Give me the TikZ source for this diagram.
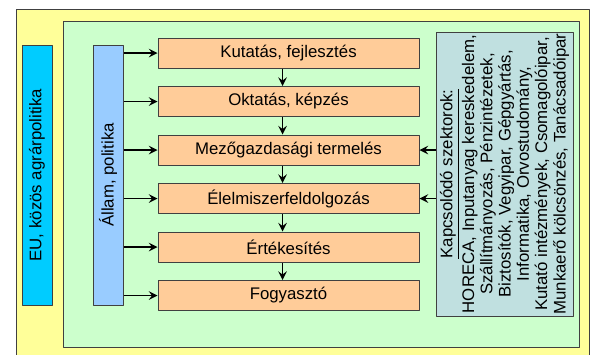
\documentclass[tikz,border=0pt]{standalone}
\usepackage{fontspec}
\setmainfont{Liberation Sans}
\usetikzlibrary{positioning}

\definecolor{frameyellow}{HTML}{FFFF99}
\definecolor{framegreen}{HTML}{CCFFCC}
\definecolor{eublue}{HTML}{00CCFF}
\definecolor{stateblue}{HTML}{99CCFF}
\definecolor{chainorange}{HTML}{FFCC99}
\definecolor{sectorcyan}{HTML}{C0E0E0}

\tikzset{
  chainbox/.style={draw=black!75, line width=0.5pt, fill=chainorange,
                   minimum width=130.5pt, minimum height=15pt, inner sep=0pt},
  barbox/.style={draw=black!75, line width=0.5pt, rotate=90,
                 minimum width=130pt, minimum height=15pt, inner sep=0pt},
  flow/.style={->, line width=0.9pt}
}

\begin{document}
\begin{tikzpicture}[>=stealth, x=0.5pt, y=-0.5pt, line join=round,
                    font=\fontsize{8.4}{9.2}\selectfont]

  \useasboundingbox (0,0) rectangle (594,354);

  % ── frames ─────────────────────────────────────────────────────────────

  \draw[draw=black!75, line width=0.5pt, fill=frameyellow] (16,9) rectangle (589,364);
  \draw[draw=black!75, line width=0.5pt, fill=framegreen] (63,21) rectangle (579,347);

  % ── side bars ──────────────────────────────────────────────────────────

  \node[barbox, fill=eublue] (eu) at (37,175) {EU, közös agrárpolitika};
  \node[barbox, fill=stateblue] (allam) at (108,175) {Állam, politika};

  % ── chain of activities ────────────────────────────────────────────────

  \node[chainbox] (kutatas) at (288.5,53) {Kutatás, fejlesztés};
  \node[chainbox, below=8.75pt of kutatas] (oktatas) {Oktatás, képzés};
  \node[chainbox, below=8.75pt of oktatas] (termeles) {Mezőgazdasági termelés};
  \node[chainbox, below=8.75pt of termeles] (feldolg) {Élelmiszerfeldolgozás};
  \node[chainbox, below=8.75pt of feldolg] (ertek) {Értékesítés};
  \node[chainbox, below=8.75pt of ertek] (fogyaszto) {Fogyasztó};

  % ── related sectors ────────────────────────────────────────────────────

  \node[draw=black!75, line width=0.5pt, fill=sectorcyan, rotate=90,
        minimum width=142pt, minimum height=68.5pt, inner sep=0pt,
        align=center, font=\fontsize{8.4}{9.15}\selectfont]
        (szektor) at (504.5,174)
        {\underline{Kapcsolódó szektorok:}\\
         HORECA, Inputanyag kereskedelem,\\
         Szállítmányozás, Pénzintézetek,\\
         Biztosítók, Vegyipar, Gépgyártás,\\
         Informatika, Orvostudomány,\\
         Kutató intézmények, Csomagolóipar,\\
         Munkaerő kölcsönzés, Tanácsadóipar};

  % ── connectors ─────────────────────────────────────────────────────────

  \foreach \act in {kutatas, oktatas, termeles, feldolg, ertek, fogyaszto}
    \draw[flow] (allam.south |- \act.west) -- (\act.west);

  \foreach \src/\dst in {kutatas/oktatas, oktatas/termeles, termeles/feldolg,
                         feldolg/ertek, ertek/fogyaszto}
    \draw[flow] ([xshift=-3pt]\src.south) -- ([xshift=-3pt]\dst.north);

  \draw[flow] (szektor.north |- termeles.east) -- (termeles.east);
  \draw[flow] (szektor.north |- feldolg.east) -- (feldolg.east);

\end{tikzpicture}
\end{document}
